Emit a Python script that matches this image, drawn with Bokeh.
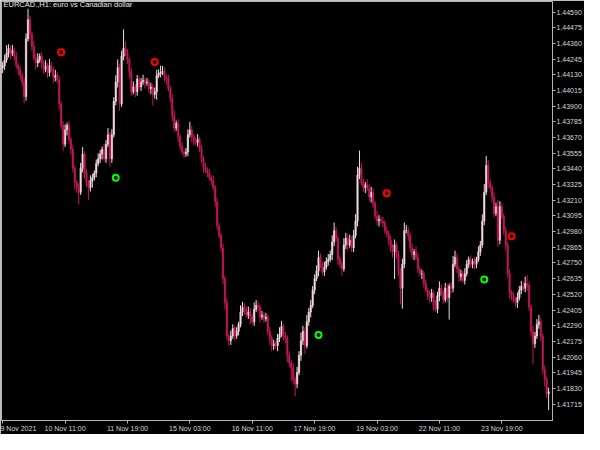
import pandas as pd
from bokeh.plotting import figure
from bokeh.models import FixedTicker, Label, PrintfTickFormatter, ColumnDataSource
from bokeh.embed import file_html
from bokeh.resources import INLINE

# ---- data (EURCAD H1) ----
first_open = 1.44182
closes = [
    1.44196, 1.44238, 1.44287, 1.44323, 1.44287, 1.44309, 1.44266, 1.44196, 1.44168, 1.44126,
    1.44076, 1.43971, 1.44393, 1.44533, 1.44428, 1.44337, 1.44252, 1.44217, 1.44238, 1.44266,
    1.44217, 1.44168, 1.44196, 1.44147, 1.44196, 1.44168, 1.44112, 1.44126, 1.44090, 1.43915,
    1.43760, 1.43620, 1.43725, 1.43760, 1.43655, 1.43584, 1.43444, 1.43338, 1.43303, 1.43268,
    1.43444, 1.43549, 1.43409, 1.43338, 1.43303, 1.43352, 1.43374, 1.43409, 1.43479, 1.43514,
    1.43549, 1.43584, 1.43514, 1.43620, 1.43690, 1.43514, 1.43690, 1.43936, 1.44076, 1.44182,
    1.43915, 1.44266, 1.44323, 1.44287, 1.44238, 1.44147, 1.44006, 1.44041, 1.44006, 1.44098,
    1.44041, 1.44076, 1.44090, 1.44069, 1.44076, 1.44027, 1.44041, 1.43985, 1.44006, 1.44126,
    1.44140, 1.44147, 1.44154, 1.44112, 1.44098, 1.44027, 1.43957, 1.43830, 1.43739, 1.43774,
    1.43676, 1.43606, 1.43563, 1.43549, 1.43563, 1.43690, 1.43725, 1.43676, 1.43641, 1.43634,
    1.43655, 1.43584, 1.43514, 1.43451, 1.43430, 1.43409, 1.43374, 1.43352, 1.43303, 1.43198,
    1.43022, 1.42952, 1.42860, 1.42636, 1.42460, 1.42214, 1.42179, 1.42214, 1.42270, 1.42214,
    1.42249, 1.42298, 1.42390, 1.42425, 1.42411, 1.42369, 1.42390, 1.42354, 1.42319, 1.42411,
    1.42439, 1.42425, 1.42354, 1.42369, 1.42340, 1.42354, 1.42249, 1.42200, 1.42143, 1.42157,
    1.42143, 1.42200, 1.42228, 1.42284, 1.42214, 1.42200, 1.42073, 1.42017, 1.41982, 1.41897,
    1.41862, 1.41947, 1.42073, 1.42179, 1.42249, 1.42143, 1.42319, 1.42390, 1.42439, 1.42551,
    1.42636, 1.42692, 1.42790, 1.42741, 1.42685, 1.42720, 1.42762, 1.42776, 1.42811, 1.42903,
    1.42987, 1.42931, 1.42776, 1.42741, 1.42706, 1.42882, 1.42931, 1.42882, 1.42917, 1.42860,
    1.42952, 1.43057, 1.43395, 1.43444, 1.43338, 1.43303, 1.43324, 1.43296, 1.43233, 1.43268,
    1.43184, 1.43093, 1.43057, 1.43071, 1.43057, 1.43043, 1.42987, 1.42966, 1.42917, 1.42860,
    1.42832, 1.42882, 1.42811, 1.42692, 1.42565, 1.42741, 1.42987, 1.42987, 1.42952, 1.42860,
    1.42811, 1.42832, 1.42790, 1.42706, 1.42671, 1.42671, 1.42600, 1.42551, 1.42509, 1.42495,
    1.42530, 1.42439, 1.42411, 1.42509, 1.42565, 1.42530, 1.42481, 1.42565, 1.42495, 1.42579,
    1.42565, 1.42741, 1.42790, 1.42706, 1.42650, 1.42671, 1.42622, 1.42671, 1.42741, 1.42776,
    1.42741, 1.42762, 1.42741, 1.42776, 1.42832, 1.42882, 1.43057, 1.43268, 1.43465, 1.43338,
    1.43303, 1.43233, 1.43114, 1.43163, 1.42917, 1.43163, 1.43093, 1.42987, 1.42882, 1.42671,
    1.42530, 1.42509, 1.42481, 1.42460, 1.42495, 1.42551, 1.42579, 1.42565, 1.42600, 1.42586,
    1.42425, 1.42249, 1.42157, 1.42214, 1.42298, 1.42319, 1.42214, 1.41968, 1.41897, 1.41792,
    1.41806,
]
# upper / lower shadow lengths in pips (0.0001)
wick_up = [
    3, 4, 6, 3, 2, 4, 2, 3, 2, 3,
    2, 3, 4, 8, 3, 2, 4, 3, 5, 2,
    3, 2, 4, 2, 5, 3, 2, 4, 2, 3,
    2, 3, 4, 2, 3, 2, 3, 2, 2, 3,
    4, 5, 2, 3, 2, 4, 3, 2, 3, 4,
    3, 2, 4, 3, 5, 2, 4, 3, 5, 6,
    3, 4, 14, 5, 3, 2, 3, 4, 2, 3,
    2, 3, 4, 2, 3, 2, 3, 2, 3, 4,
    3, 5, 4, 3, 2, 3, 2, 3, 4, 2,
    3, 2, 3, 2, 3, 4, 6, 3, 2, 3,
    4, 2, 3, 2, 3, 2, 3, 2, 4, 2,
    3, 2, 2, 3, 2, 3, 2, 4, 3, 2,
    3, 2, 5, 4, 3, 2, 4, 3, 2, 5,
    4, 3, 2, 3, 2, 3, 2, 3, 2, 3,
    2, 3, 5, 4, 2, 3, 2, 3, 2, 3,
    2, 4, 3, 6, 4, 3, 5, 3, 4, 3,
    3, 4, 5, 3, 2, 4, 3, 4, 3, 5,
    6, 3, 2, 3, 2, 5, 4, 3, 4, 3,
    4, 5, 6, 13, 4, 3, 2, 4, 3, 4,
    3, 2, 4, 3, 2, 3, 2, 3, 2, 3,
    3, 4, 2, 3, 2, 4, 6, 4, 3, 2,
    3, 2, 4, 3, 2, 3, 2, 3, 2, 4,
    3, 2, 4, 3, 5, 3, 2, 4, 3, 2,
    3, 6, 5, 3, 2, 3, 2, 4, 3, 2,
    3, 2, 3, 2, 4, 3, 5, 6, 7, 4,
    3, 2, 4, 3, 5, 4, 3, 2, 3, 2,
    3, 2, 3, 2, 4, 3, 4, 3, 5, 6,
    3, 2, 4, 3, 4, 5, 3, 2, 3, 2,
    3,
]
wick_down = [
    4, 3, 2, 3, 4, 2, 3, 2, 4, 3,
    3, 5, 3, 2, 4, 3, 2, 5, 3, 2,
    4, 3, 2, 4, 3, 2, 4, 3, 2, 4,
    3, 5, 2, 4, 3, 4, 3, 5, 4, 9,
    2, 3, 4, 3, 9, 3, 5, 2, 3, 2,
    3, 4, 2, 3, 2, 6, 3, 2, 3, 4,
    5, 2, 3, 2, 3, 4, 3, 2, 4, 3,
    2, 3, 2, 4, 2, 3, 4, 8, 3, 6,
    2, 3, 2, 3, 4, 2, 3, 4, 3, 2,
    4, 3, 2, 3, 2, 3, 2, 4, 3, 2,
    3, 2, 3, 4, 2, 3, 2, 3, 2, 4,
    3, 2, 3, 4, 5, 3, 4, 3, 2, 3,
    2, 3, 2, 3, 4, 2, 3, 5, 2, 3,
    2, 3, 4, 2, 3, 2, 3, 5, 4, 3,
    2, 4, 3, 2, 3, 4, 5, 3, 10, 4,
    9, 3, 2, 4, 3, 6, 2, 3, 4, 2,
    3, 2, 4, 3, 2, 3, 2, 3, 2, 4,
    3, 2, 4, 3, 5, 2, 3, 4, 2, 3,
    3, 2, 4, 3, 2, 3, 4, 2, 3, 4,
    3, 2, 3, 4, 2, 3, 2, 3, 4, 3,
    4, 20, 3, 4, 12, 15, 3, 2, 4, 3,
    3, 4, 2, 3, 2, 4, 3, 2, 3, 4,
    3, 4, 2, 3, 4, 2, 3, 2, 3, 16,
    4, 3, 2, 3, 4, 3, 2, 3, 2, 3,
    2, 3, 4, 3, 2, 3, 2, 3, 2, 4,
    3, 4, 3, 2, 5, 3, 2, 3, 4, 3,
    4, 3, 2, 3, 4, 2, 3, 2, 3, 4,
    3, 4, 15, 3, 2, 3, 4, 3, 5, 3,
    12,
]
# indicator signals
sell_idx = [30, 78, 197, 261]
sell_price = [1.44294, 1.44224, 1.43261, 1.42945]
buy_idx = [58, 162, 247]
buy_price = [1.43374, 1.42221, 1.42629]

time_tick_idx = [0, 32, 64, 96, 128, 160, 192, 224, 256]
time_tick_labels = ["9 Nov 2021", "10 Nov 11:00", "11 Nov 19:00", "15 Nov 03:00",
                    "16 Nov 11:00", "17 Nov 19:00", "19 Nov 03:00", "22 Nov 11:00",
                    "23 Nov 19:00"]
price_ticks = [1.41715, 1.41830, 1.41945, 1.42060, 1.42175, 1.42290, 1.42405, 1.42520,
               1.42635, 1.42750, 1.42865, 1.42980, 1.43095, 1.43210, 1.43325, 1.43440,
               1.43555, 1.43670, 1.43785, 1.43900, 1.44015, 1.44130, 1.44245, 1.44360,
               1.44475, 1.44590]
title_text = "EURCAD.,H1:  euro vs Canadian dollar"

# ---- build candle table ----
n = len(closes)
opens = [first_open] + closes[:-1]
df = pd.DataFrame({"i": list(range(n)), "open": opens, "close": closes,
                   "up": wick_up[:n], "dn": wick_down[:n]})
df["top"] = df[["open", "close"]].max(axis=1)
df["bot"] = df[["open", "close"]].min(axis=1)
df["high"] = df["top"] + df["up"] * 0.0001
df["low"] = df["bot"] - df["dn"] * 0.0001
bull = df[df["close"] >= df["open"]]
bear = df[df["close"] < df["open"]]

BULL = "#f4dadc"
BEAR = "#c2185b"
GRAY = "#b4b4b4"
FONT = "Liberation Sans"

p = figure(width=584, height=434, x_range=(-0.6, 282), y_range=(1.41595, 1.44667),
           y_axis_location="right", output_backend="svg", toolbar_location=None,
           background_fill_color="black", border_fill_color="black",
           min_border_left=1, min_border_top=1, min_border_right=0, min_border_bottom=0)
p.grid.visible = False
p.outline_line_color = GRAY
p.outline_line_width = 1

for d, col in ((bull, BULL), (bear, BEAR)):
    src = ColumnDataSource(d)
    p.segment(x0="i", y0="low", x1="i", y1="high", source=src, line_color=col, line_width=1)
    p.vbar(x="i", top="top", bottom="bot", width=0.75, source=src,
           fill_color=col, line_color=col, line_width=0.5)

p.scatter(sell_idx, sell_price, marker="circle", size=6, fill_color=None,
          line_color="#ff0000", line_width=2)
p.scatter(buy_idx, buy_price, marker="circle", size=6, fill_color=None,
          line_color="#00ff00", line_width=2)

# axes
ya = p.yaxis[0]
ya.ticker = FixedTicker(ticks=price_ticks)
ya.formatter = PrintfTickFormatter(format="%.5f")
xa = p.xaxis[0]
xa.ticker = FixedTicker(ticks=time_tick_idx)
xa.major_label_overrides = {i: s for i, s in zip(time_tick_idx, time_tick_labels)}
xa.major_label_text_align = "left"
for ax in (xa, ya):
    ax.axis_line_color = GRAY
    ax.major_tick_line_color = GRAY
    ax.minor_tick_line_color = None
    ax.major_tick_in = 0
    ax.major_tick_out = 3
    ax.major_label_text_color = "#d8d8d8"
    ax.major_label_text_font = FONT
    ax.major_label_text_font_size = "7px"
    ax.major_label_standoff = 1

p.add_layout(Label(x=2, y=421, x_units="screen", y_units="screen", text=title_text,
                   text_color="#e8e8e8", text_font=FONT, text_font_size="7.5px",
                   text_baseline="top"))

open("out.html", "w").write(file_html(p, INLINE))
